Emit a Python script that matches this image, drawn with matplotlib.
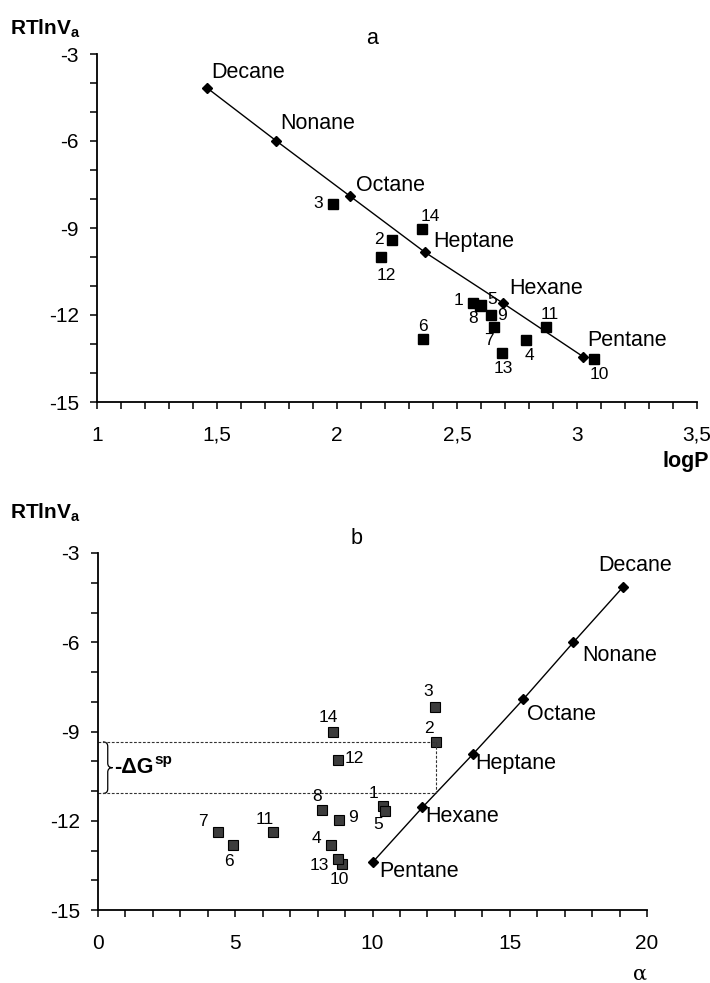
import numpy as np
import matplotlib
matplotlib.use("Agg")
import matplotlib.pyplot as plt
from matplotlib import font_manager
from matplotlib.path import Path
from matplotlib.patches import PathPatch

names = set(f.name for f in font_manager.fontManager.ttflist)
FONT = 'Liberation Sans Narrow' if 'Liberation Sans Narrow' in names else 'Liberation Sans'
plt.rcParams['font.family'] = [FONT, 'DejaVu Sans']
plt.rcParams['axes.unicode_minus'] = False
plt.rcParams['mathtext.fontset'] = 'custom'
plt.rcParams['mathtext.rm'] = FONT
plt.rcParams['mathtext.bf'] = FONT + ':bold'

# n-alkanes (reference line)
alkanes = ['Pentane', 'Hexane', 'Heptane', 'Octane', 'Nonane', 'Decane']
alk_logp = [3.026, 2.693, 2.367, 2.054, 1.746, 1.457]
alk_rt_a = [-13.44, -11.60, -9.84, -7.90, -5.99, -4.16]
alk_alpha = [10.0, 11.82, 13.65, 15.49, 17.32, 19.12]
alk_rt_b = [-13.40, -11.55, -9.77, -7.92, -6.0, -4.15]

# probe molecules 1..14
ids = ['1', '2', '3', '4', '5', '6', '7', '8', '9', '10', '11', '12', '13', '14']
logp = [2.565, 2.228, 1.982, 2.786, 2.600, 2.357, 2.655, 2.595, 2.640, 3.071, 2.870, 2.183, 2.686, 2.353]
rt_a = [-11.58, -9.41, -8.17, -12.86, -11.66, -12.83, -12.40, -11.70, -12.01, -13.52, -12.40, -10.01, -13.32, -9.05]
alpha = [10.38, 12.30, 12.28, 8.48, 10.45, 4.93, 4.38, 8.15, 8.79, 8.89, 6.38, 8.73, 8.76, 8.55]
rt_b = [-11.52, -9.35, -8.18, -12.80, -11.66, -12.81, -12.39, -11.64, -11.99, -13.47, -12.39, -9.95, -13.28, -9.0]

# label offsets (points)
off_a = {'1': (-7, 2, 'right'), '2': (-6, 0, 'right'), '3': (-7, 0, 'right'), '4': (3, -11, 'center'),
         '5': (8, 4, 'center'), '6': (0, 9, 'center'), '7': (-4, -10, 'center'), '8': (-5, -9, 'center'),
         '9': (8, 0, 'center'), '10': (4, -11, 'center'), '11': (3, 9, 'center'), '12': (4, -13, 'center'),
         '13': (1, -11, 'center'), '14': (6, 9, 'center')}
off_b = {'1': (-7, 9, 'center'), '2': (-5, 10, 'center'), '3': (-5, 11, 'center'), '4': (-10, 4, 'center'),
         '5': (-5, -10, 'center'), '6': (-3, -12, 'center'), '7': (-11, 8, 'center'), '8': (-3, 10, 'center'),
         '9': (10, 2, 'center'), '10': (-2, -11, 'center'), '11': (-6, 9, 'center'), '12': (12, 1, 'center'),
         '13': (-14, -5, 'center'), '14': (-3, 10, 'center')}
alk_off_a = {'Pentane': (3, 4), 'Hexane': (4, 3), 'Heptane': (6, 0), 'Octane': (4, 0), 'Nonane': (3, 5), 'Decane': (3, 3)}
alk_off_b = {'Pentane': (5, 1), 'Hexane': (2, 1), 'Heptane': (2, 1), 'Octane': (3, -3), 'Nonane': (6, -2), 'Decane': (9, 8)}

fig = plt.figure(figsize=(7.1, 9.83), dpi=100)
ax1 = fig.add_axes([97/710, 1-402/983, 600/710, 348/983])
ax2 = fig.add_axes([98/710, 1-910/983, 549/710, 357/983])


def style(ax):
    for s in ['top', 'right']:
        ax.spines[s].set_visible(False)
    for s in ['left', 'bottom']:
        ax.spines[s].set_linewidth(1.3)
    ax.tick_params(which='both', direction='out', length=5, width=1.1, labelsize=15)
    ax.tick_params(axis='x', which='both', pad=12)
    ax.tick_params(axis='y', which='both', pad=8)
    ax.set_ylim(-15, -3)
    ax.set_yticks([-15, -12, -9, -6, -3])
    ax.set_yticks(np.arange(-15, -2, 1), minor=True)


# panel a
style(ax1)
ax1.set_xlim(1, 3.5)
ax1.set_xticks([1, 1.5, 2, 2.5, 3, 3.5])
ax1.set_xticklabels(['1', '1,5', '2', '2,5', '3', '3,5'])
ax1.set_xticks(np.arange(1, 3.51, 0.1), minor=True)
ax1.plot(alk_logp, alk_rt_a, color='black', lw=1.0, marker='D', ms=5, clip_on=False)
ax1.plot(logp, rt_a, ls='none', marker='s', ms=7.5, color='black')
for n, x, y in zip(alkanes, alk_logp, alk_rt_a):
    ax1.annotate(n, (x, y), xytext=alk_off_a[n], textcoords='offset points',
                 ha='left', va='bottom', fontsize=15.5)
for i, x, y in zip(ids, logp, rt_a):
    dx, dy, ha = off_a[i]
    ax1.annotate(i, (x, y), xytext=(dx, dy), textcoords='offset points',
                 ha=ha, va='center', fontsize=12.5)

# panel b
style(ax2)
ax2.set_xlim(0, 20)
ax2.set_xticks([0, 5, 10, 15, 20])
ax2.set_xticks(np.arange(0, 21, 1), minor=True)
ax2.plot(alk_alpha, alk_rt_b, color='black', lw=1.0, marker='D', ms=5, clip_on=False)
ax2.plot(alpha, rt_b, ls='none', marker='s', ms=7.5, mfc='#3c3c3c', mec='black', mew=0.8)
for n, x, y in zip(alkanes, alk_alpha, alk_rt_b):
    dx, dy = alk_off_b[n]
    va = 'bottom' if n == 'Decane' else 'top'
    ha = 'center' if n == 'Decane' else 'left'
    ax2.annotate(n, (x, y), xytext=(dx, dy), textcoords='offset points',
                 ha=ha, va=va, fontsize=15.5)
for i, x, y in zip(ids, alpha, rt_b):
    dx, dy, ha = off_b[i]
    ax2.annotate(i, (x, y), xytext=(dx, dy), textcoords='offset points',
                 ha=ha, va='center', fontsize=12.5)

# -dG^sp construction for probe 2
k = ids.index('2')
x2, y2 = alpha[k], rt_b[k]
y_ref = np.interp(x2, alk_alpha, alk_rt_b)
ax2.plot([0, x2], [y2, y2], ls=(0, (2.5, 1.5)), color='#333333', lw=0.8)
ax2.plot([0, x2], [y_ref, y_ref], ls=(0, (2.5, 1.5)), color='#333333', lw=0.8)
ax2.plot([x2, x2], [y2, y_ref], ls=(0, (2.5, 1.5)), color='#333333', lw=0.8)

# curly brace
x0, w, d = 0.18, 0.35, 0.15
ym = (y2 + y_ref) / 2
verts = [(x0, y2), (x0 + w/2, y2), (x0 + w/2, y2 - d),
         (x0 + w/2, ym + d),
         (x0 + w/2, ym), (x0 + w, ym),
         (x0 + w/2, ym), (x0 + w/2, ym - d),
         (x0 + w/2, y_ref + d),
         (x0 + w/2, y_ref), (x0, y_ref)]
codes = [Path.MOVETO, Path.CURVE3, Path.CURVE3, Path.LINETO, Path.CURVE3, Path.CURVE3,
         Path.CURVE3, Path.CURVE3, Path.LINETO, Path.CURVE3, Path.CURVE3]
ax2.add_patch(PathPatch(Path(verts, codes), fill=False, lw=0.9, color='black'))
t = ax2.text(0.6, ym, '-\u0394G', fontsize=15.5, fontweight='bold', ha='left', va='center')
fig.canvas.draw()
bb = t.get_window_extent()
fig.text(bb.x1 / fig.bbox.width, (bb.y1 - 3) / fig.bbox.height, 'sp', fontsize=11,
         fontweight='bold', ha='left', va='center')

# labels
fig.text(10/710, 1-34/983, r'RTlnV$_\mathbf{a}$', fontsize=15, fontweight='bold', ha='left', va='baseline')
fig.text(10/710, 1-518/983, r'RTlnV$_\mathbf{a}$', fontsize=15, fontweight='bold', ha='left', va='baseline')
fig.text(372/710, 1-38/983, 'a', fontsize=15.5, ha='center', va='center')
fig.text(357/710, 1-538/983, 'b', fontsize=15.5, ha='center', va='center')
fig.text(686/710, 1-461/983, 'logP', fontsize=15.5, fontweight='bold', ha='center', va='center')
fig.text(640/710, 1-974/983, '\u03b1', fontsize=15, ha='center', va='center', family='DejaVu Serif')

fig.savefig('out.png', dpi=100)
